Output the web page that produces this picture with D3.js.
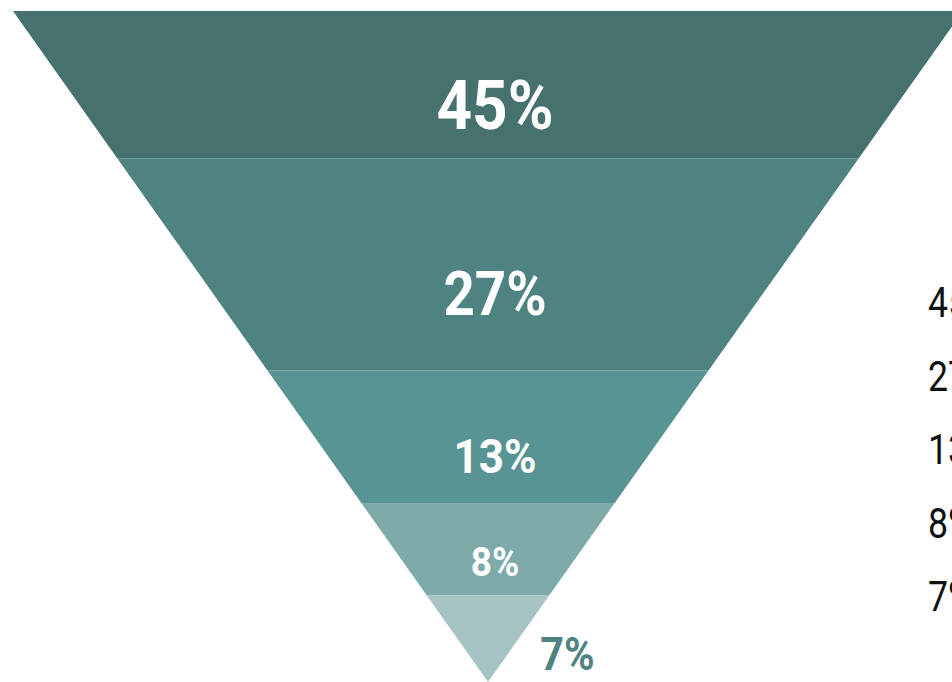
<!DOCTYPE html>
<html>
<head>
<meta charset="utf-8">
<script src="https://cdn.jsdelivr.net/npm/d3@7"></script>
<style>
  body { margin: 0; background: #fff; }
  svg { display: block; font-family: Roboto, "Noto Sans", sans-serif; }
</style>
</head>
<body>
<div class="chart"></div>
<script>
// funnel slices, top to bottom
const stages = ['45%', '27%', '13%', '8%', '7%'];
const shares = [45, 27, 13, 8, 7];
const colors = ['#46716f', '#4f8381', '#589493', '#7eaaaa', '#a7c4c4'];

const width = 952, height = 682;
const funnelTop = 11, apex = 682, cx = 488, halfTop = 475;

const svg = d3.select('.chart')
    .append('svg')
    .attr('width', width)
    .attr('height', height);

// cumulative share -> y (slices near the tip get stretched a bit)
const yScale = d3.scalePow()
    .exponent(1.9)
    .domain([0, d3.sum(shares)])
    .range([funnelTop, apex]);

// half width of the triangle at a given y
const wScale = d3.scaleLinear()
    .domain([funnelTop, apex])
    .range([halfTop, 0]);

const fontScale = d3.scaleLog()
    .domain([8, 45])
    .range([41, 69]);

let acc = 0;
const slices = shares.map((v, i) => {
    const s = {label: stages[i], value: v, color: colors[i], c0: acc, c1: acc + v};
    acc += v;
    return s;
});

const line = d3.line();

svg.selectAll('path.slice')
    .data(slices)
    .enter()
    .append('path')
    .attr('class', 'slice')
    .attr('d', d => {
        const y0 = yScale(d.c0), y1 = yScale(d.c1);
        return line([
            [cx - wScale(y0), y0],
            [cx + wScale(y0), y0],
            [cx + wScale(y1), y1],
            [cx - wScale(y1), y1]
        ]) + 'Z';
    })
    .attr('fill', d => d.color);

// labels inside the bigger slices
const inside = slices.slice(0, 4);
svg.selectAll('text.inner')
    .data(inside)
    .enter()
    .append('text')
    .attr('class', 'inner')
    .attr('transform', d => {
        const y0 = yScale(d.c0), y1 = yScale(d.c1);
        return 'translate(' + (cx + 7) + ',' + (y0 + (y1 - y0) * 0.64) + ') scale(0.9,1)';
    })
    .attr('text-anchor', 'middle')
    .attr('dominant-baseline', 'central')
    .attr('font-weight', 700)
    .attr('font-size', d => fontScale(d.value))
    .attr('fill', '#fff')
    .text(d => d.label);

// tip slice is too small, label goes beside it
const tip = slices[slices.length - 1];
svg.append('text')
    .attr('transform', () => {
        const y0 = yScale(tip.c0), y1 = yScale(tip.c1);
        return 'translate(' + (cx + wScale(y0) - 9) + ',' + ((y0 + y1) / 2 + 15) + ') scale(0.9,1)';
    })
    .attr('dominant-baseline', 'central')
    .attr('font-weight', 700)
    .attr('font-size', 46)
    .attr('fill', '#4f8381')
    .text(tip.label);

// legend column on the right (runs off the edge)
const legendY = d3.scalePoint()
    .domain(stages)
    .range([303, 597]);

svg.selectAll('text.legend')
    .data(stages)
    .enter()
    .append('text')
    .attr('class', 'legend')
    .attr('transform', d => 'translate(928,' + legendY(d) + ') scale(0.85,1)')
    .attr('dominant-baseline', 'central')
    .attr('font-size', 42)
    .attr('fill', '#111')
    .text(d => d);
</script>
</body>
</html>
